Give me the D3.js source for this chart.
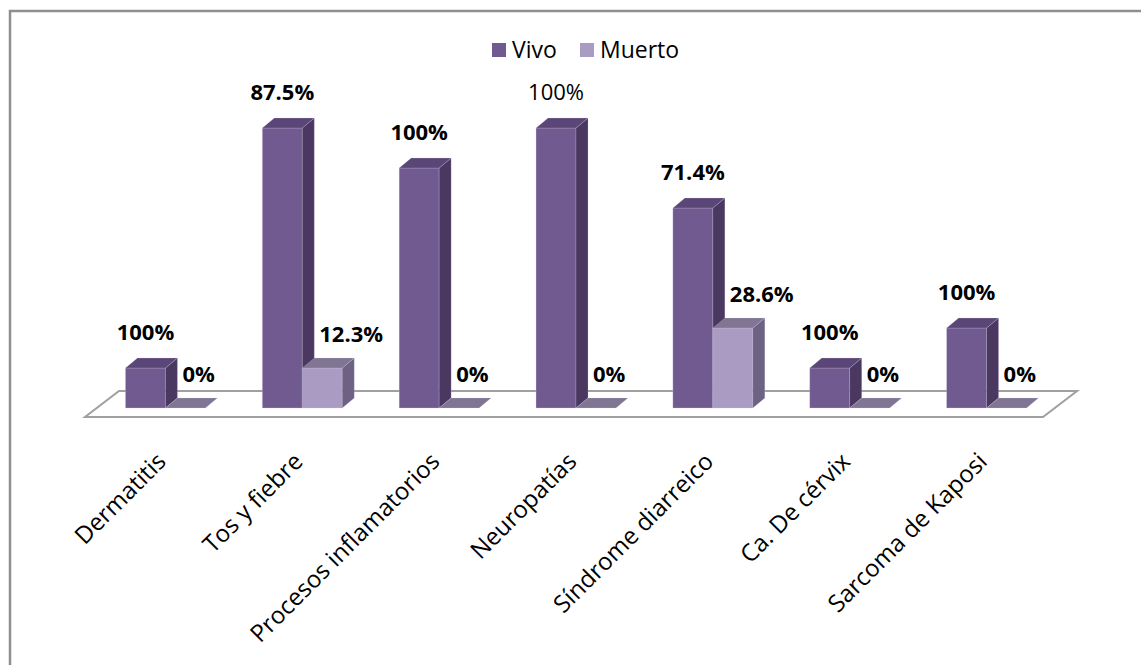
<!DOCTYPE html>
<html>
<head>
<meta charset="utf-8">
<script src="https://cdn.jsdelivr.net/npm/d3@7/dist/d3.min.js"></script>
<style>
  html, body { margin: 0; padding: 0; background: #fff; }
  svg { display: block; }
</style>
</head>
<body>
<script>
// Casos por diagnóstico, según condición de egreso
const categories = ["Dermatitis", "Tos y fiebre", "Procesos inflamatorios", "Neuropatías",
                    "Síndrome diarreico", "Ca. De cérvix", "Sarcoma de Kaposi"];
const series = ["Vivo", "Muerto"];
const vivo = [1, 7, 6, 7, 5, 1, 2];
const muerto = [0, 1, 0, 0, 2, 0, 0];
const vivoLabels = ["100%", "87.5%", "100%", "100%", "71.4%", "100%", "100%"];
const muertoLabels = ["0%", "12.3%", "0%", "0%", "28.6%", "0%", "0%"];

const W = 1141, H = 665;
const FONT = "'Open Sans', 'Noto Sans', sans-serif";

const svg = d3.select("body").append("svg").attr("width", W).attr("height", H);

// outer frame (only top and left edges fall inside the view)
svg.append("path")
  .attr("d", `M10,${H + 5} V11 H${W + 5}`)
  .attr("fill", "none").attr("stroke", "#8f8f8f").attr("stroke-width", 2.5);

// scales
const x = d3.scaleBand().domain(categories).range([97, 1055]).paddingInner(0.416).paddingOuter(0.208);
const xs = d3.scaleBand().domain(series).range([0, x.bandwidth()]);
const y = d3.scaleLinear().domain([0, 7]).range([408, 128]);

// colours per series: front, side, top
const palette = {
  Vivo:   { front: "#715a8f", side: "#4a3860", top: "#5a4778" },
  Muerto: { front: "#a99bc1", side: "#6d6283", top: "#817594" }
};

// depth offsets for the 3-D look
const bd = { dx: 12, dy: -10 };     // bar depth
const fd = { dx: 34, dy: -26 };     // floor depth

// floor plate
const y0 = y(0);
const fl = x.range()[0] - 12, fr = x.range()[1] - 12;
const ff = y0 + 9;
svg.append("path")
  .attr("d", `M${fl},${ff} L${fr},${ff} L${fr + fd.dx},${ff + fd.dy} L${fl + fd.dx},${ff + fd.dy} Z`)
  .attr("fill", "#fff").attr("stroke", "#a0a0a0").attr("stroke-width", 2);

// bar rows
const rows = categories.map((c, i) => ({
  cat: c,
  items: [
    { s: "Vivo", v: vivo[i], label: vivoLabels[i] },
    { s: "Muerto", v: muerto[i], label: muertoLabels[i] }
  ]
}));

const edge = "rgba(215,205,235,0.35)";
const gBars = svg.append("g");

rows.forEach(r => {
  r.items.forEach(d => {
    const x0 = x(r.cat) + xs(d.s);
    const w = xs.bandwidth();
    const yt = y(d.v);
    const col = palette[d.s];
    const g = gBars.append("g");
    if (d.v > 0) {
      g.append("rect")
        .attr("x", x0).attr("y", yt).attr("width", w).attr("height", y0 - yt)
        .attr("fill", col.front).attr("stroke", edge).attr("stroke-width", 0.8);
      g.append("path")
        .attr("d", `M${x0 + w},${y0} L${x0 + w + bd.dx},${y0 + bd.dy} L${x0 + w + bd.dx},${yt + bd.dy} L${x0 + w},${yt} Z`)
        .attr("fill", col.side).attr("stroke", edge).attr("stroke-width", 0.6);
    }
    g.append("path")
      .attr("d", `M${x0},${yt} L${x0 + bd.dx},${yt + bd.dy} L${x0 + w + bd.dx},${yt + bd.dy} L${x0 + w},${yt} Z`)
      .attr("fill", col.top).attr("stroke", edge).attr("stroke-width", 0.6);
  });
});

// value labels
const plainLabel = new Set(["Neuropatías"]);
const gLab = svg.append("g").attr("font-family", FONT).attr("fill", "#000");
rows.forEach(r => {
  const dv = r.items[0], dm = r.items[1];
  gLab.append("text")
    .attr("x", x(r.cat) + xs("Vivo") + xs.bandwidth() / 2)
    .attr("y", y(dv.v) - 28)
    .attr("text-anchor", "middle")
    .attr("font-size", 22)
    .attr("font-weight", plainLabel.has(r.cat) ? 400 : 700)
    .text(dv.label);
  gLab.append("text")
    .attr("x", x(r.cat) + xs("Muerto") + 17)
    .attr("y", y(dm.v) - 26)
    .attr("text-anchor", "start")
    .attr("font-size", 22)
    .attr("font-weight", 700)
    .text(dm.label);
});

// category axis labels, rotated
const gAx = svg.append("g").attr("font-family", FONT).attr("font-size", 24).attr("fill", "#000");
categories.forEach(c => {
  const cx = x(c) + x.bandwidth() / 2 + 2;
  gAx.append("text")
    .attr("transform", `translate(${cx},463) rotate(-45)`)
    .attr("text-anchor", "end")
    .text(c);
});

// legend
const lg = svg.append("g").attr("font-family", FONT).attr("font-size", 23);
const legendX = [492, 580];
series.forEach((s, i) => {
  lg.append("rect").attr("x", legendX[i]).attr("y", 43).attr("width", 14).attr("height", 14)
    .attr("fill", palette[s].front);
  lg.append("text").attr("x", legendX[i] + 20).attr("y", 58).attr("fill", "#000").text(s);
});
</script>
</body>
</html>
